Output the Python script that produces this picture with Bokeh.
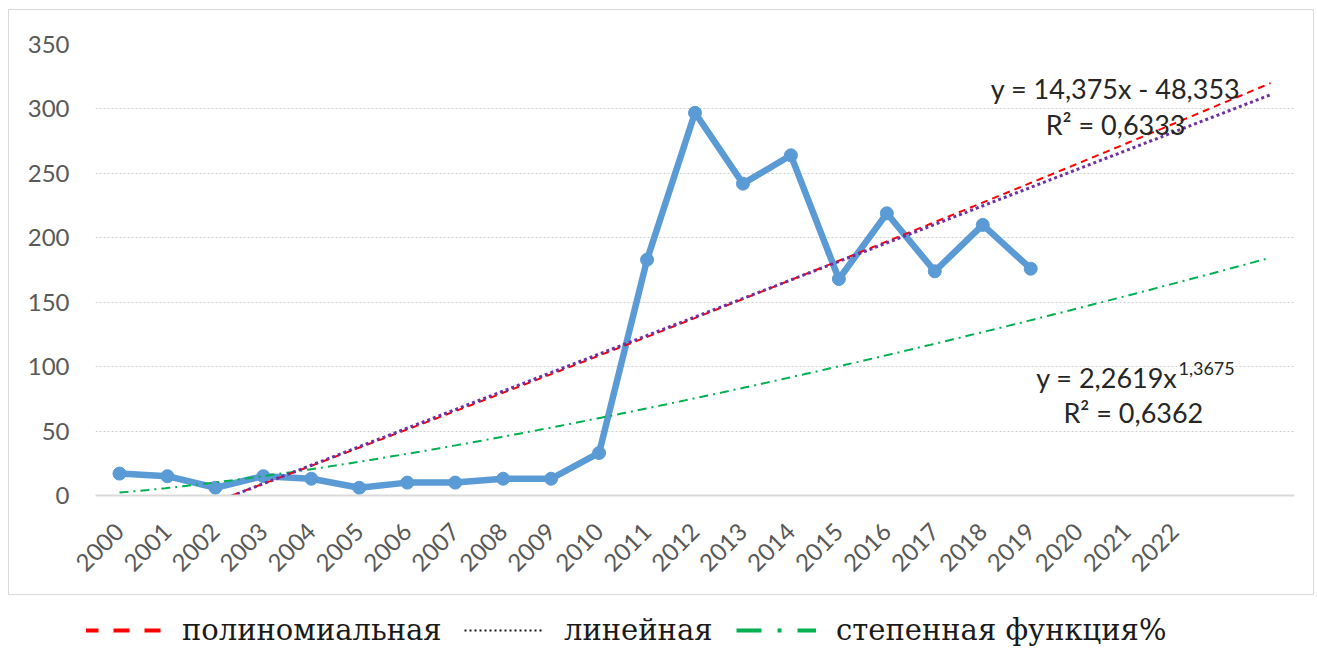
import math
import numpy as np
from bokeh.plotting import figure
from bokeh.models import (Range1d, FixedTicker, Label, Legend, LegendItem,
                          ColumnDataSource)
from bokeh.layouts import column
from bokeh.embed import file_html
from bokeh.resources import INLINE

# ---------------- data ----------------
years = [str(y) for y in range(2000, 2020)]
values = [17, 15, 6, 15, 13, 6, 10, 10, 13, 13, 33, 183, 297, 242, 264, 168, 219, 174, 210, 176]
axis_years = [str(y) for y in range(2000, 2023)]      # labelled categories
n_periods = 25                                         # trend lines run to period 25
lin_coef = [14.375, -48.353]                           # y = 14,375x - 48,353
pow_coef = [2.2619, 1.3675]                            # y = 2,2619x^1,3675
poly_coef = [0.043, 13.558, -45.773]                   # polynomial trend
lin_text = ["y = 14,375x - 48,353", "R² = 0,6333"]
pow_text = ["y = 2,2619x", "1,3675", "R² = 0,6362"]
legend_labels = ["полиномиальная", "линейная", "степенная функция%"]

SANS = "Lato"
SERIF = "DejaVu Serif"
GRAY = "#595959"

xs = list(range(1, len(values) + 1))
tx = np.linspace(1, n_periods, 400)
lin_y = lin_coef[0] * tx + lin_coef[1]
pow_y = pow_coef[0] * tx ** pow_coef[1]
poly_y = poly_coef[0] * tx ** 2 + poly_coef[1] * tx + poly_coef[2]

# ---------------- main chart ----------------
p = figure(width=1306, height=586, output_backend="svg", toolbar_location=None,
           x_range=Range1d(0.5, n_periods + 0.5), y_range=Range1d(0, 350),
           min_border_left=86, min_border_right=21, min_border_top=34,
           min_border_bottom=101)
p.margin = (9, 0, 0, 8)
p.styles = {"border": "1px solid #d9d9d9"}
p.outline_line_color = None
p.background_fill_color = "white"
p.border_fill_color = "white"

# axes
p.yaxis.ticker = FixedTicker(ticks=list(range(0, 351, 50)))
p.yaxis.axis_line_color = None
p.yaxis.major_tick_line_color = None
p.yaxis.minor_tick_line_color = None
p.yaxis.major_label_standoff = 20
p.yaxis.major_label_text_font = SANS
p.yaxis.major_label_text_font_size = "24px"
p.yaxis.major_label_text_color = GRAY

p.xaxis.ticker = FixedTicker(ticks=list(range(1, len(axis_years) + 1)))
p.xaxis.major_label_overrides = {i + 1: y for i, y in enumerate(axis_years)}
p.xaxis.major_label_orientation = math.pi / 4
p.xaxis.axis_line_color = "#d9d9d9"
p.xaxis.axis_line_width = 2
p.xaxis.major_tick_line_color = None
p.xaxis.minor_tick_line_color = None
p.xaxis.major_label_standoff = 26
p.xaxis.major_label_text_font = SANS
p.xaxis.major_label_text_font_size = "24px"
p.xaxis.major_label_text_color = GRAY

p.xgrid.grid_line_color = None
p.ygrid.ticker = FixedTicker(ticks=list(range(50, 351, 50)))
p.ygrid.grid_line_color = "#cfcfcf"
p.ygrid.grid_line_dash = "2 2"
p.ygrid.grid_line_width = 1

# data series
src = ColumnDataSource(dict(x=xs, y=values, year=years))
p.line("x", "y", source=src, line_color="#5B9BD5", line_width=6.5,
       line_join="round", line_cap="round")
p.scatter("x", "y", source=src, size=13, fill_color="#5B9BD5",
          line_color="#5B9BD5")

# trend lines
p.line(tx, pow_y, line_color="#00B050", line_width=2, line_dash="9 5 2 5")
p.line(tx, poly_y, line_color="#FF0000", line_width=2, line_dash="7 5")
p.line(tx, lin_y, line_color="#7030A0", line_width=3, line_dash="3 3")

# equations
TXT = "#262626"
p.add_layout(Label(x=21.77, y=315.5, text=lin_text[0], text_align="center",
                   text_baseline="middle", text_font=SANS,
                   text_font_size="27px", text_color=TXT))
p.add_layout(Label(x=21.77, y=288, text=lin_text[1], text_align="center",
                   text_baseline="middle", text_font=SANS,
                   text_font_size="27px", text_color=TXT))
p.add_layout(Label(x=23.06, y=91.5, text=pow_text[0], text_align="right",
                   text_baseline="middle", text_font=SANS,
                   text_font_size="27px", text_color=TXT))
p.add_layout(Label(x=23.08, y=98.5, text=pow_text[1], text_align="left",
                   text_baseline="middle", text_font=SANS,
                   text_font_size="18px", text_color=TXT))
p.add_layout(Label(x=22.14, y=64.3, text=pow_text[2], text_align="center",
                   text_baseline="middle", text_font=SANS,
                   text_font_size="27px", text_color=TXT))

# ---------------- legend strip ----------------
lg = figure(width=1316, height=52, output_backend="svg", toolbar_location=None,
            x_range=Range1d(0, 1), y_range=Range1d(0, 1),
            x_axis_location=None, y_axis_location=None,
            min_border=0)
lg.outline_line_color = None
lg.xgrid.grid_line_color = None
lg.ygrid.grid_line_color = None

off = dict(x=[-5, -4], y=[-5, -5])   # legend-only renderers, outside the view
r_poly = lg.line(off["x"], off["y"], line_color="#FF0000", line_width=4, line_dash="16 15")
r_lin = lg.line(off["x"], off["y"], line_color="#1a1a1a", line_width=2, line_dash="2 3")
r_pow = lg.line(off["x"], off["y"], line_color="#00B050", line_width=4, line_dash="25 16 4 16")

# the column aligns this strip's frame with the chart's frame (~87px in)
for r, lab, xloc in [(r_poly, legend_labels[0], -4),
                     (r_lin, legend_labels[1], 378),
                     (r_pow, legend_labels[2], 650)]:
    leg = Legend(items=[LegendItem(label=lab, renderers=[r])],
                 location=(xloc, 0), orientation="horizontal",
                 glyph_width=80, glyph_height=20, label_standoff=20,
                 padding=0, margin=0, border_line_color=None,
                 background_fill_alpha=0,
                 label_text_font=SERIF, label_text_font_size="29px",
                 label_text_color="#1a1a1a")
    lg.add_layout(leg)

layout = column(p, lg, spacing=0)
open("out.html", "w").write(file_html(layout, INLINE))
